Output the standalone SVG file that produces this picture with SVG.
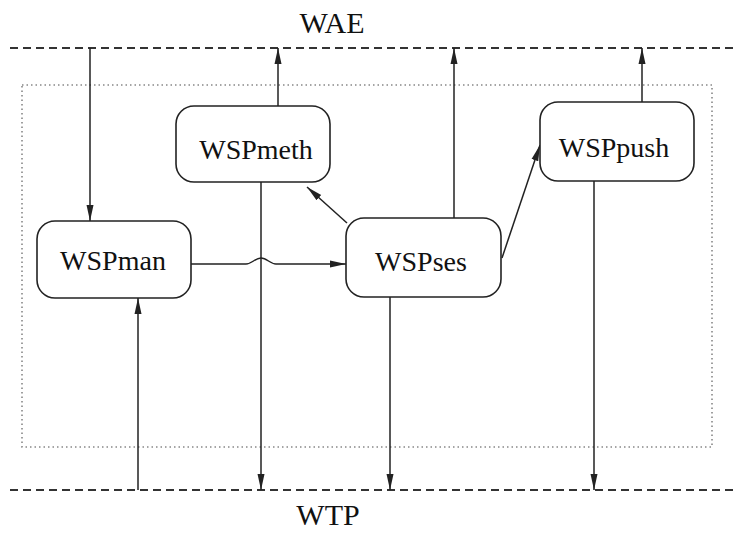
<svg xmlns="http://www.w3.org/2000/svg" width="736" height="533" viewBox="0 0 736 533">
<defs>
<marker id="ahl" viewBox="0 0 16 10" refX="16" refY="5" markerWidth="16" markerHeight="10" markerUnits="userSpaceOnUse" orient="auto">
<path d="M0,1.5 L16,5 L0,8.5 Z" fill="#222"/>
</marker>
</defs>
<style>
.box{fill:#fff;stroke:#222;stroke-width:1.6}
.lbl{font-family:"Liberation Serif","Times New Roman",serif;font-size:28px;fill:#111;text-anchor:middle}
.ttl{font-family:"Liberation Serif","Times New Roman",serif;font-size:30px;fill:#111;text-anchor:middle}
.dash{stroke:#333;stroke-width:2;stroke-dasharray:8 5;fill:none}
.dot{stroke:#888;stroke-width:1.6;stroke-dasharray:1.5 3;fill:none}
.c{stroke:#222;stroke-width:1.5;fill:none}
</style>
<rect width="736" height="533" fill="#fff"/>
<text class="ttl" x="332" y="33">WAE</text>
<text class="ttl" x="328" y="525">WTP</text>
<line class="dash" x1="10" y1="48" x2="733" y2="48"/>
<line class="dash" x1="10" y1="490" x2="733" y2="490"/>
<rect class="dot" x="22" y="85" width="690" height="362"/>
<g id="connectors">
<line class="c" x1="90" y1="48" x2="90" y2="221" marker-end="url(#ahl)"/>
<line class="c" x1="278" y1="106" x2="278" y2="48" marker-end="url(#ahl)"/>
<line class="c" x1="454" y1="218" x2="454" y2="48" marker-end="url(#ahl)"/>
<line class="c" x1="642" y1="102" x2="642" y2="48" marker-end="url(#ahl)"/>
<line class="c" x1="261" y1="182" x2="261" y2="490" marker-end="url(#ahl)"/>
<line class="c" x1="390" y1="297" x2="390" y2="490" marker-end="url(#ahl)"/>
<line class="c" x1="594" y1="181" x2="594" y2="490" marker-end="url(#ahl)"/>
<line class="c" x1="138" y1="490" x2="138" y2="298" marker-end="url(#ahl)"/>
<path class="c" d="M191,264 L246,264 C252,264 255,258 261,258 C267,258 270,264 276,264 L346,264" marker-end="url(#ahl)"/>
<line class="c" x1="347" y1="223" x2="307" y2="187" marker-end="url(#ahl)"/>
<line class="c" x1="502" y1="258" x2="540" y2="145" marker-end="url(#ahl)"/>
</g>
<g id="WSPmeth">
<rect class="box" x="176" y="106" width="154" height="76" rx="18"/>
<text class="lbl" x="256" y="159">WSPmeth</text>
</g>
<g id="WSPpush">
<rect class="box" x="540" y="102" width="154" height="79" rx="18"/>
<text class="lbl" x="614" y="157">WSPpush</text>
</g>
<g id="WSPman">
<rect class="box" x="37" y="221" width="154" height="77" rx="18"/>
<text class="lbl" x="113" y="270">WSPman</text>
</g>
<g id="WSPses">
<rect class="box" x="346" y="218" width="155" height="79" rx="18"/>
<text class="lbl" x="421" y="271">WSPses</text>
</g>
</svg>
